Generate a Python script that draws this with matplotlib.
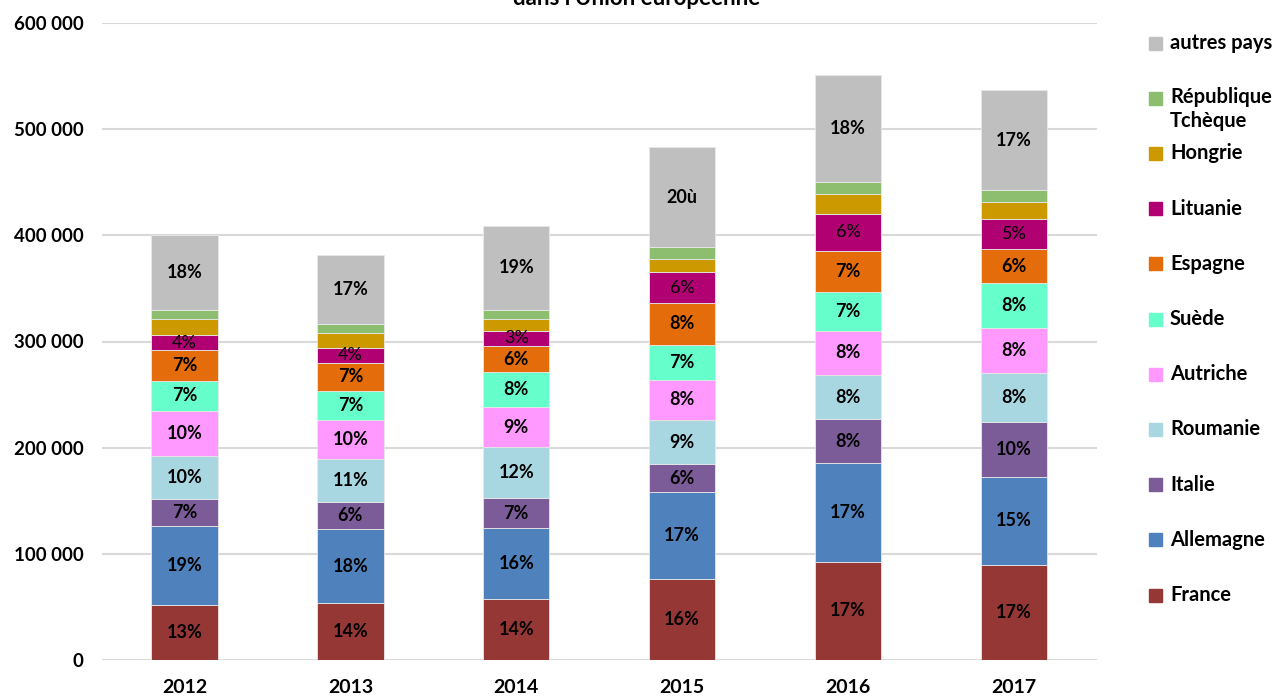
import matplotlib
matplotlib.use("Agg")
import matplotlib.pyplot as plt
from matplotlib.patches import Rectangle
import numpy as np

plt.rcParams['font.family'] = ['Lato', 'DejaVu Sans']

# --- data ---
years = ["2012", "2013", "2014", "2015", "2016", "2017"]

france      = [52000, 53400, 57700, 76200, 92700, 89900]
allemagne   = [74000, 69700, 66300, 82200, 92500, 82900]
italie      = [25800, 25400, 28800, 25800, 41400, 51000]
roumanie    = [40800, 40500, 47500, 42100, 42200, 46600]
autriche    = [41700, 37300, 37600, 37300, 41400, 42500]
suede       = [28900, 27300, 33300, 33500, 36300, 42200]
espagne     = [28600, 26100, 24500, 38800, 38900, 31900]
lituanie    = [14400, 14400, 14400, 29700, 34900, 28600]
hongrie     = [14600, 14100, 11300, 12100, 18300, 15800]
rep_tcheque = [8700, 8500, 8400, 11100, 11400, 11400]
autres      = [70600, 64900, 79000, 94100, 101300, 93900]

france_lbl    = ["13%", "14%", "14%", "16%", "17%", "17%"]
allemagne_lbl = ["19%", "18%", "16%", "17%", "17%", "15%"]
italie_lbl    = ["7%", "6%", "7%", "6%", "8%", "10%"]
roumanie_lbl  = ["10%", "11%", "12%", "9%", "8%", "8%"]
autriche_lbl  = ["10%", "10%", "9%", "8%", "8%", "8%"]
suede_lbl     = ["7%", "7%", "8%", "7%", "7%", "8%"]
espagne_lbl   = ["7%", "7%", "6%", "8%", "7%", "6%"]
lituanie_lbl  = ["4%", "4%", "3%", "6%", "6%", "5%"]
autres_lbl    = ["18%", "17%", "19%", "20ù", "18%", "17%"]

# bottom to top
series = [
    ("France",              france,      "#953735", france_lbl,    "bold"),
    ("Allemagne",           allemagne,   "#4f81bd", allemagne_lbl, "bold"),
    ("Italie",              italie,      "#7b5c98", italie_lbl,    "bold"),
    ("Roumanie",            roumanie,    "#a8d7e2", roumanie_lbl,  "bold"),
    ("Autriche",            autriche,    "#ff99ff", autriche_lbl,  "bold"),
    ("Suède",               suede,       "#66ffcc", suede_lbl,     "bold"),
    ("Espagne",             espagne,     "#e46c0a", espagne_lbl,   "bold"),
    ("Lituanie",            lituanie,    "#b00072", lituanie_lbl,  "normal"),
    ("Hongrie",             hongrie,     "#cc9900", None,          "bold"),
    ("République\nTchèque", rep_tcheque, "#8dbd6f", None,          "bold"),
    ("autres pays",         autres,      "#bfbfbf", autres_lbl,    "bold"),
]

fig = plt.figure(figsize=(12.82, 7.0), dpi=100)
ax = fig.add_axes([101.5 / 1282, 40 / 700, 995.5 / 1282, 637 / 700])

x = np.arange(len(years))
bottom = np.zeros(len(years))
for name, vals, col, lbls, weight in series:
    vals = np.array(vals, dtype=float)
    ax.bar(x, vals, width=0.4, bottom=bottom, color=col,
           edgecolor="#e8e8e8", linewidth=0.6, zorder=3)
    if lbls is not None:
        for xi, b, v, t in zip(x, bottom, vals, lbls):
            ax.text(xi, b + v / 2, t, ha="center", va="center",
                    fontsize=13, fontweight=weight, color="black", zorder=4)
    bottom += vals

ax.set_xlim(-0.5, len(years) - 0.5)
ax.set_ylim(0, 600000)
ticks = np.arange(0, 600001, 100000)
ax.set_yticks(ticks)
ax.set_yticklabels([f"{v:,}".replace(",", " ") for v in ticks],
                   fontsize=13.5, fontweight="bold")
ax.set_xticks(x)
ax.set_xticklabels(years, fontsize=14, fontweight="bold")
ax.tick_params(axis="both", length=0)
ax.tick_params(axis="y", pad=13)
ax.tick_params(axis="x", pad=14)
ax.grid(axis="y", color="#d9d9d9", linewidth=1.5, zorder=0)
for s in ax.spines.values():
    s.set_visible(False)

# title, its upper part is cut off at the top like in the reference
fig.text(637 / 1282, 1 - 5 / 700, "dans l'Union européenne", ha="center",
         va="baseline", fontsize=16, fontweight="bold")

# legend drawn by hand (top to bottom)
leg_y0 = 43
leg_step = 55.2
for i, (name, vals, col, lbls, weight) in enumerate(reversed(series)):
    yc = leg_y0 + i * leg_step
    fig.patches.append(Rectangle((1149 / 1282, 1 - (yc + 6.5) / 700), 13 / 1282, 13 / 700,
                                 transform=fig.transFigure, color=col, figure=fig))
    if "\n" in name:
        fig.text(1170 / 1282, 1 - (yc - 11) / 700, name, ha="left", va="top",
                 fontsize=14.5, fontweight="bold", linespacing=1.25)
    else:
        fig.text(1170 / 1282, 1 - yc / 700, name, ha="left", va="center",
                 fontsize=14.5, fontweight="bold")

fig.savefig("out.png", dpi=100)
